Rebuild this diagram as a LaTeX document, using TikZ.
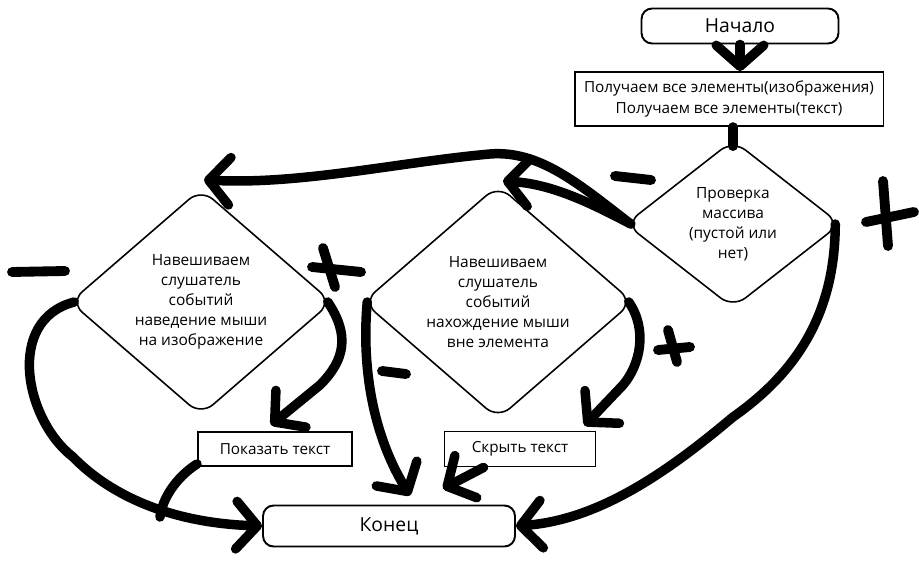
\documentclass[tikz,border=0pt]{standalone}
\usepackage{fontspec}
\setmainfont{Open Sans}
\usetikzlibrary{shapes.geometric,arrows.meta,calc}

\begin{document}
\begin{tikzpicture}[x=0.02cm,y=-0.02cm,
    conn/.style={line width=5.4pt, line cap=round, line join=round,
      -{Straight Barb[length=0.42cm,width=0.95cm,round]}},
    wire/.style={line width=5.4pt, line cap=round, line join=round},
    sign/.style={line width=5.6pt, line cap=round},
    termbox/.style={draw, line width=1.1pt, rounded corners=6pt,
      font=\fontsize{11}{13}\selectfont},
    procbox/.style={draw, line width=1.1pt, align=center,
      font=\fontsize{8.7}{12}\selectfont},
    choice/.style={draw, diamond, line width=0.9pt, rounded corners=9pt,
      align=center, inner sep=0pt, font=\fontsize{8.8}{11.3}\selectfont}]
  \useasboundingbox (0,0) rectangle (919,567);

  % Define the nodes
  \node[termbox, minimum width=3.94cm, minimum height=0.7cm] (begin) at (740,26) {Начало};
  \node[procbox, minimum width=6.18cm, minimum height=1.08cm] (get) at (729,99)
    {Получаем все элементы(изображения)\\Получаем все элементы(текст)};
  \node[choice, minimum width=4.3cm, minimum height=3.36cm] (check) at (733,224)
    {Проверка\\массива\\(пустой или\\нет)};
  \node[choice, minimum width=5.24cm, minimum height=4.12cm] (hover) at (201,302)
    {Навешиваем\\слушатель\\событий\\наведение мыши\\на изображение};
  \node[choice, minimum width=5.4cm, minimum height=4.12cm] (leave) at (498,302)
    {Навешиваем\\слушатель\\событий\\нахождение мыши\\вне элемента};
  \node[procbox, minimum width=3.08cm, minimum height=0.68cm] (show) at (275,449) {Показать текст};
  \node[procbox, minimum width=3.02cm, minimum height=0.7cm] (hide) at (520,449) {Скрыть текст};
  \node[termbox, minimum width=5.04cm, minimum height=0.82cm] (finish) at (389,526) {Конец};

  % Define the free ends
  \coordinate (leavetip) at (503,181);
  \coordinate (merge) at (160,517);

  % Draw the connectors
  \draw[conn] (begin.south) -- (get.north -| begin.south);
  \draw[wire] (get.south -| check.north) -- ($(check.north)+(0,7)$);
  \draw[conn] ($(check.west)+(6,0)$) .. controls (585,200) and (550,184) .. (leavetip);
  \draw[conn] ($(check.west)+(6,0)$) .. controls (580,185) and (540,150) .. (490,154)
    .. controls (400,162) and (300,185) .. ($(hover.north)+(3,-8)$);
  \draw[conn] ($(check.east)+(-6,0)$) .. controls (835,310) and (800,370) .. (733,417)
    .. controls (670,470) and (600,520) .. (finish.east);
  \draw[conn] ($(hover.east)+(-5,0)$) .. controls (350,335) and (345,360) .. (320,385)
    -- ($(show.north)+(-4,-6)$);
  \draw[conn] ($(hover.west)+(5,0)$) .. controls (5,320) and (25,420) .. (73,457)
    .. controls (110,495) and (170,523) .. (finish.west);
  \draw[wire] ($(show.south west)+(0,-3)$) .. controls (175,478) and (162,500) .. (merge);
  \draw[conn] ($(leave.east)+(-5,0)$) .. controls (648,330) and (640,365) .. (623,385)
    -- ($(hide.north east)+(-12,-5)$);
  \draw[conn] ($(leave.west)+(5,0)$) .. controls (362,360) and (370,430) .. ($(finish.north)+(21,-9)$);
  \draw[conn] ($(hide.south west)+(40,0)$) -- ($(finish.north)+(54,-16)$);

  % Draw the signs
  \draw[sign] (12,272) -- (65,271);
  \draw[sign] (323,248) -- (335,287);
  \draw[sign] (312,267) -- (361,272);
  \draw[sign] (382,371) -- (406,374);
  \draw[sign] (668,330) -- (677,362);
  \draw[sign] (658,350) -- (690,347);
  \draw[sign] (615,176) -- (651,180);
  \draw[sign] (883,181) -- (888,246);
  \draw[sign] (866,222) -- (914,212);
\end{tikzpicture}
\end{document}
